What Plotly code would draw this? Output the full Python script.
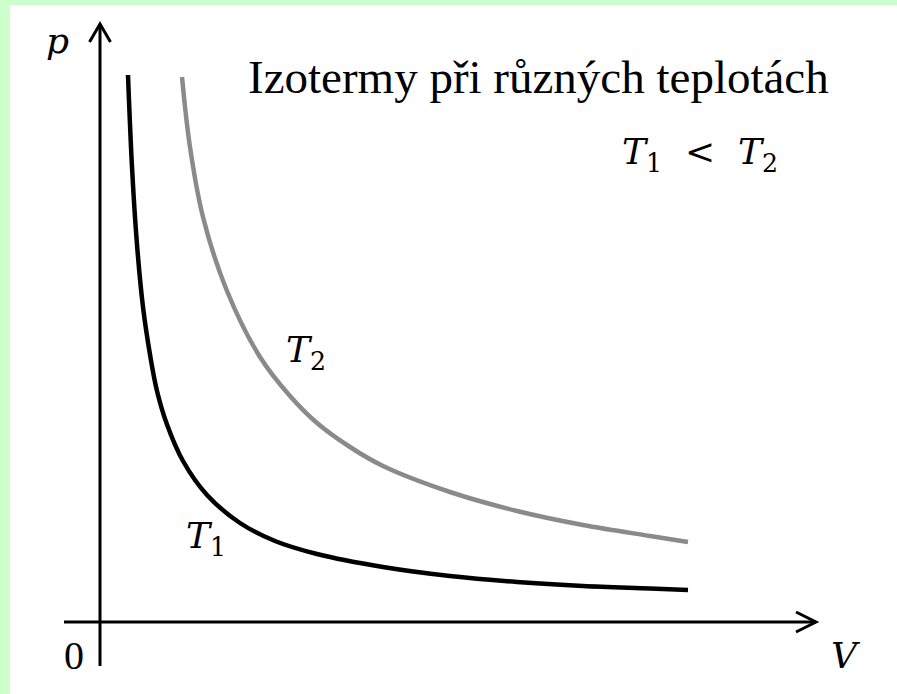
import plotly.graph_objects as go

# Isotherm T1 (lower temperature): volume V, pressure p
v_t1 = [0.56, 0.64, 0.74, 0.86, 1.00, 1.14, 1.34, 1.66, 2.14, 2.80, 3.50, 4.34, 5.66, 7.00, 8.34, 9.66, 11.00, 11.76]
p_t1 = [10.94, 9.10, 7.55, 6.30, 5.35, 4.62, 3.95, 3.22, 2.54, 1.98, 1.62, 1.36, 1.10, 0.92, 0.80, 0.72, 0.67, 0.64]

# Isotherm T2 (higher temperature)
v_t2 = [1.64, 1.80, 2.06, 2.54, 3.20, 3.80, 4.34, 5.00, 5.66, 7.00, 8.34, 9.66, 11.00, 11.76]
p_t2 = [10.90, 9.50, 8.10, 6.62, 5.30, 4.52, 3.98, 3.50, 3.12, 2.60, 2.22, 1.94, 1.72, 1.60]

title_text = "Izotermy při různých teplotách"
relation_text = "<i>T</i><sub>1</sub>  <  <i>T</i><sub>2</sub>"
label_t1 = "<i>T</i><sub>1</sub>"
label_t2 = "<i>T</i><sub>2</sub>"

W, H = 897, 694
ML, MT = 10, 5
# axis ranges (1 unit = 50 px, origin at pixel (100, 622))
x_range = [-1.8, 15.94]
y_range = [-1.44, 12.34]

fig = go.Figure()
fig.add_trace(go.Scatter(x=v_t2, y=p_t2, mode="lines", line=dict(color="#8a8a8a", width=4.5, shape="spline"),
                         hoverinfo="skip", showlegend=False))
fig.add_trace(go.Scatter(x=v_t1, y=p_t1, mode="lines", line=dict(color="#000000", width=4.5, shape="spline"),
                         hoverinfo="skip", showlegend=False))

ax_line = dict(color="black", width=3)
shapes = [
    # V axis
    dict(type="line", xref="x", yref="y", x0=-0.72, y0=0, x1=14.32, y1=0, line=ax_line),
    dict(type="path", xref="x", yref="y", path="M 13.92,0.2 L 14.32,0 L 13.92,-0.2", line=ax_line),
    # p axis
    dict(type="line", xref="x", yref="y", x0=0, y0=-0.88, x1=0, y1=11.96, line=ax_line),
    dict(type="path", xref="x", yref="y", path="M -0.21,11.6 L 0,11.96 L 0.21,11.6", line=ax_line),
]

math_font = dict(family="DejaVu Serif", size=36, color="black")
def px2paper(px, py):
    return (px - ML) / (W - ML), 1 - (py - MT) / (H - MT)

annots = []
def add_text(text, px, py, font, xanchor="left"):
    x, y = px2paper(px, py)
    annots.append(dict(text=text, x=x, y=y, xref="paper", yref="paper", showarrow=False,
                       xanchor=xanchor, yanchor="middle", font=font))

add_text(title_text, 246, 77, dict(family="Liberation Serif", size=47, color="black"))
add_text(relation_text, 620, 155, math_font)
add_text(label_t2, 284, 352, math_font)
add_text(label_t1, 184, 538, math_font)
add_text("<i>p</i>", 44, 40, math_font)
add_text("<i>V</i>", 829, 655, math_font)
add_text("0", 62, 655, dict(family="Liberation Serif", size=40, color="black"))

fig.update_layout(
    width=W, height=H, autosize=False,
    margin=dict(l=ML, r=0, t=MT, b=0, pad=0),
    paper_bgcolor="#ccffcc", plot_bgcolor="white",
    xaxis=dict(range=x_range, visible=False, fixedrange=True),
    yaxis=dict(range=y_range, visible=False, fixedrange=True),
    shapes=shapes, annotations=annots, showlegend=False,
)
fig.write_html("out.html", config=dict(displayModeBar=False),
               post_script="document.body.style.margin='0';document.body.style.overflow='hidden';")
